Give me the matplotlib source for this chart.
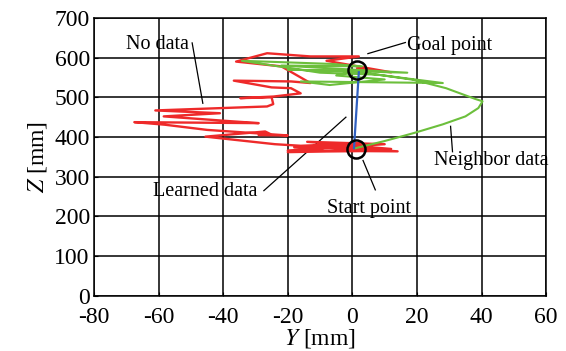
import numpy as np
import matplotlib
matplotlib.use("Agg")
from matplotlib import pyplot as plt

# trajectories: Y [mm], Z [mm]
no_data_y = [1, -12, 14, -20, 10, -14, 12, -18, 5, -16, 8, -20, 3, -16, -24, -45.5, -27, -25.5, -29, -20,
             -45, -58, -67.5, -29, -38, -58.4, -41, -61, -26.4, -24.5, -25, -34.7, -24.4, -16, -19, -25,
             -36.7, -19, -13, -22, -36, -26.4, -13, 2, -8, 12, 1.5]
no_data_z = [372, 378, 364, 366, 382, 388, 370, 374, 380, 376, 366, 362, 384, 378, 382, 401, 414, 408, 405,
             404, 418, 431, 437.5, 435, 440, 452, 460, 467, 477, 483, 500, 498, 502, 510, 523, 525,
             542, 540, 536, 578, 590, 611, 603, 603, 592, 563, 572]

neighbor_y = [1, 10, 19, 28, 35, 39, 40.3, 38, 29, 19, 8, -10, -34.2, -6, 3, -22, 17, -20, 0, 28, -16, -7,
              10, -5, 2]
neighbor_z = [372, 390, 410, 432, 452, 473, 490, 496, 523, 544, 557, 562, 592, 584, 578, 580, 562, 570,
              565, 536, 540, 531, 545, 555, 568]

learned_y = [0.5, 2]
learned_z = [372, 563]

start_pt = (1, 371)
goal_pt = (1.5, 570)

plt.rcParams['font.family'] = ['Liberation Serif', 'DejaVu Serif']
plt.rcParams['mathtext.fontset'] = 'stix'
plt.rcParams['axes.unicode_minus'] = False

fig = plt.figure(figsize=(5.66, 3.51), dpi=100)
ax = fig.add_axes([0.166, 0.157, 0.799, 0.792])

ax.plot(no_data_y, no_data_z, color='#ee2a2a', lw=1.7, zorder=3)
ax.plot(neighbor_y, neighbor_z, color='#6cbf3c', lw=1.5, zorder=4)
ax.plot(learned_y, learned_z, color='#3060c0', lw=1.6, zorder=5)
ax.plot(*start_pt, 'o', ms=13, mfc='none', mec='black', mew=1.8, zorder=6)
ax.plot(*goal_pt, 'o', ms=13, mfc='none', mec='black', mew=1.8, zorder=6)

ax.set_xlim(-80, 60)
ax.set_ylim(0, 700)
ax.set_xticks(np.arange(-80, 61, 20))
ax.set_yticks(np.arange(0, 701, 100))
ax.grid(True, color='black', lw=1.1)
ax.set_axisbelow(True)
ax.tick_params(direction='in', length=3, labelsize=17)
ax.tick_params(axis='x', pad=8)
ax.tick_params(axis='y', pad=3)
for s in ax.spines.values():
    s.set_linewidth(1.1)

ax.set_xlabel(r'$Y$ [mm]', fontsize=17, labelpad=-1)
ax.set_ylabel(r'$Z$ [mm]', fontsize=17, labelpad=4)

fs = 14.5
kw = dict(color='black', lw=0.9)
ax.plot([-49.6, -46.3], [637, 485], **kw)
ax.text(-50.5, 633, 'No data', ha='right', va='center', fontsize=fs)
ax.plot([4.8, 16.4], [610, 638], **kw)
ax.text(17, 630, 'Goal point', ha='left', va='center', fontsize=fs)
ax.plot([30.4, 31], [427, 363], **kw)
ax.text(25.4, 340, 'Neighbor data', ha='left', va='center', fontsize=fs)
ax.plot([3.3, 7.1], [341, 267], **kw)
ax.text(5.3, 219, 'Start point', ha='center', va='center', fontsize=fs)
ax.plot([-27.4, -2], [265, 450], **kw)
ax.text(-29.4, 264, 'Learned data', ha='right', va='center', fontsize=fs)

fig.savefig('out.png', dpi=100)
